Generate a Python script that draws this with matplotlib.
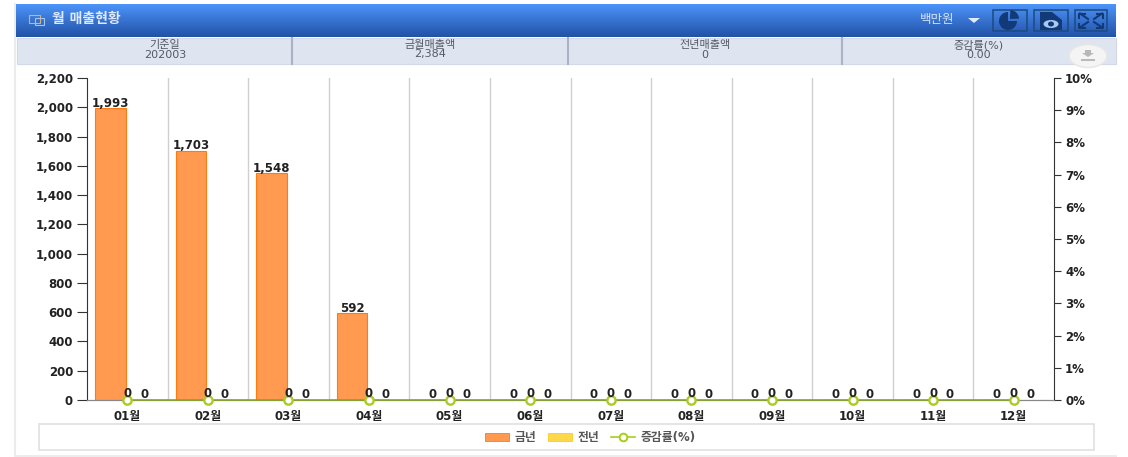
import numpy as np
import matplotlib
matplotlib.use("Agg")
import matplotlib.pyplot as plt
from matplotlib.patches import Rectangle, Wedge, Polygon, Ellipse
from matplotlib.lines import Line2D

plt.rcParams['font.family'] = ['DejaVu Sans', 'Noto Sans CJK KR']

months = ['01월', '02월', '03월', '04월', '05월', '06월', '07월', '08월', '09월', '10월', '11월', '12월']
this_year = [1993, 1703, 1548, 592, 0, 0, 0, 0, 0, 0, 0, 0]
last_year = [0] * 12
change_pct = [0] * 12
left_ticks = list(range(0, 2201, 200))
right_ticks = list(range(0, 11))
summary_heads = ['기준일', '금월매출액', '전년매출액', '증감률(%)']
summary_vals = ['202003', '2,384', '0', '0.00']
title = '월 매출현황'
unit = '백만원'
legend_names = ['금년', '전년', '증감률(%)']

W, H = 1128, 457
FS = 8.5
DARK = '#222222'
fig = plt.figure(figsize=(W / 100, H / 100), dpi=100, facecolor='white')

# page chrome, pixel coordinates
bg = fig.add_axes([0, 0, 1, 1], zorder=0)
bg.set_xlim(0, W); bg.set_ylim(H, 0); bg.axis('off')
bg.plot([15, 15, 1116], [4, 456, 456], color='#ececec', lw=1.5, zorder=0)
grad = np.linspace(0, 1, 64)[:, None, None]
c0, c1 = np.array([0.30, 0.58, 0.98]), np.array([0.13, 0.32, 0.65])
bg.imshow(c0 + (c1 - c0) * grad, extent=(16, 1116, 37, 4), aspect='auto', zorder=1)
bg.set_xlim(0, W); bg.set_ylim(H, 0)
bg.add_patch(Rectangle((17, 38), 1099, 26, fc='#dfe4f1', ec='#d3d8e6', lw=0.8, zorder=1))
for x in (292, 568, 842):
    bg.plot([x, x], [38, 64], color='#aab2c4', lw=1.5, zorder=2)
centers = [165, 430, 705, 979]
for cx, h, v in zip(centers, summary_heads, summary_vals):
    bg.text(cx, 45, h, ha='center', va='center', fontsize=8, color='#555a66', zorder=3)
    bg.text(cx, 54.5, v, ha='center', va='center', fontsize=8, color='#555a66', zorder=3)

# header
bg.add_patch(Rectangle((29, 15), 11, 8, fc='none', ec='#e0b070', lw=0.8, zorder=3))
bg.add_patch(Rectangle((35, 18), 9, 7, fc='none', ec='#9fc4f5', lw=0.8, zorder=3))
bg.text(52, 18.5, title, ha='left', va='center', fontsize=10, fontweight='bold', color='#dfeaff', zorder=3)
bg.text(937, 20, unit, ha='center', va='center', fontsize=9, color='#d5e3fb', zorder=3)
bg.add_patch(Polygon([[968, 18], [980, 18], [974, 23]], fc='#e2ecff', ec='none', zorder=3))
ICON = '#123a78'
for x0, x1 in ((993, 1027), (1034, 1068), (1075, 1107)):
    bg.add_patch(Rectangle((x0, 10), x1 - x0, 21, fc='none', ec='#1d4a80', lw=1.1, zorder=3))
bg.add_patch(Wedge((1008, 21), 9, 0, 270, fc=ICON, ec='none', zorder=4))
bg.add_patch(Wedge((1010, 19), 9, 272, 358, fc=ICON, ec='none', zorder=4))
bg.add_patch(Polygon([[1040, 12], [1052, 12], [1062, 20], [1062, 30], [1040, 30]], fc=ICON, ec='none', zorder=4))
bg.add_patch(Ellipse((1051, 24), 15, 8, fc='#a9c8f2', ec='none', zorder=5))
bg.add_patch(Ellipse((1051, 24), 6, 5, fc=ICON, ec='none', zorder=6))
for sx, sy in ((-1, -1), (1, -1), (-1, 1), (1, 1)):
    bg.plot([1091 + sx * 3, 1091 + sx * 11], [20.5 + sy * 1.5, 20.5 + sy * 7], color=ICON, lw=1.5, zorder=4)
    bg.plot([1091 + sx * 6, 1091 + sx * 12, 1091 + sx * 12], [20.5 + sy * 7, 20.5 + sy * 7, 20.5 + sy * 3],
            color=ICON, lw=1.5, zorder=4)

# download button
bg.add_patch(Ellipse((1088, 56), 38, 23, fc='#f4f4f4', ec='#e6e6e6', lw=1, zorder=6))
bg.add_patch(Polygon([[1085, 50], [1091, 50], [1091, 53], [1094, 53], [1088, 57], [1082, 53], [1085, 53]],
                     fc='#b8b8b8', ec='none', zorder=7))
bg.plot([1082, 1094], [60, 60], color='#b8b8b8', lw=1.4, zorder=7)

# legend frame
bg.add_patch(Rectangle((39, 424), 1055, 26, fc='white', ec='#e0e0e0', lw=1.2, zorder=1))

# chart
L, R, T, B = 87, 1054, 78, 400
ax = fig.add_axes([L / W, 1 - B / H, (R - L) / W, (B - T) / H], zorder=2)
ax.patch.set_alpha(0)
x = np.arange(len(months))
bw = 0.38
off = 0.21
ax.bar(x - off, this_year, bw, color='#ff9a50', edgecolor='#ff7a10', lw=0.8, zorder=2)
ax.bar(x + off, last_year, bw, color='#ffd84a', edgecolor='#ffc820', lw=0.8, zorder=2)
ax.set_xlim(-0.5, 11.5)
ax.set_ylim(0, 2200)
ax.set_yticks(left_ticks)
ax.set_yticklabels([f'{v:,}' for v in left_ticks], fontsize=FS, fontweight='bold', color=DARK)
ax.set_xticks(x)
ax.set_xticklabels(months, fontsize=FS, fontweight='bold', color=DARK)
ax.tick_params(axis='x', length=0, pad=7)
ax.tick_params(axis='y', length=7, width=0.8, color='#333333', pad=3)
for b in np.arange(0.5, 11.5, 1):
    ax.axvline(b, color='#cfcfcf', lw=1, zorder=1)
for s in ('top', 'right'):
    ax.spines[s].set_visible(False)
ax.spines['left'].set_color('#333333')
ax.spines['bottom'].set_color('#888888')

for i, (a, b) in enumerate(zip(this_year, last_year)):
    for pos, val in ((i - off, a), (i + off, b)):
        ax.annotate(f'{val:,}', (pos, val), xytext=(0, 3.6), textcoords='offset points',
                    ha='center', va='center', fontsize=FS, fontweight='bold', color=DARK, zorder=6)

ax2 = ax.twinx()
ax2.patch.set_alpha(0)
ax2.set_ylim(0, 10)
ax2.set_yticks(right_ticks)
ax2.set_yticklabels([f'{v}%' for v in right_ticks], fontsize=FS, fontweight='bold', color=DARK)
ax2.tick_params(axis='y', length=5, width=0.8, color='#333333', pad=3)
for s in ('top', 'left'):
    ax2.spines[s].set_visible(False)
ax2.spines['right'].set_color('#333333')
ax2.spines['bottom'].set_color('#888888')
ax2.plot(x, change_pct, color='#8aa52a', lw=1.2, marker='o', ms=6, mfc='white', mec='#a8cc20', mew=1.7,
         clip_on=False, zorder=5)
for i, v in enumerate(change_pct):
    ax2.annotate(f'{v}', (i, v), xytext=(0, 5), textcoords='offset points', ha='center', va='center',
                 fontsize=FS, fontweight='bold', color=DARK, zorder=6)

handles = [Rectangle((0, 0), 1, 1, fc='#ff9a50', ec='#ff7a10', lw=0.6),
           Rectangle((0, 0), 1, 1, fc='#ffd84a', ec='#ffc820', lw=0.6),
           Line2D([], [], color='#a8cc20', lw=1.2, marker='o', ms=5.5, mfc='white', mec='#a8cc20', mew=1.4)]
leg = fig.legend(handles, legend_names, loc='center', bbox_to_anchor=(0.5235, 1 - 437.5 / H), ncol=3, frameon=False,
                 prop={'size': FS, 'weight': 'bold'}, handlelength=2.0, handleheight=0.6,
                 columnspacing=1.0, handletextpad=0.5)
for t in leg.get_texts():
    t.set_color('#555555')

fig.savefig('out.png', dpi=100)
